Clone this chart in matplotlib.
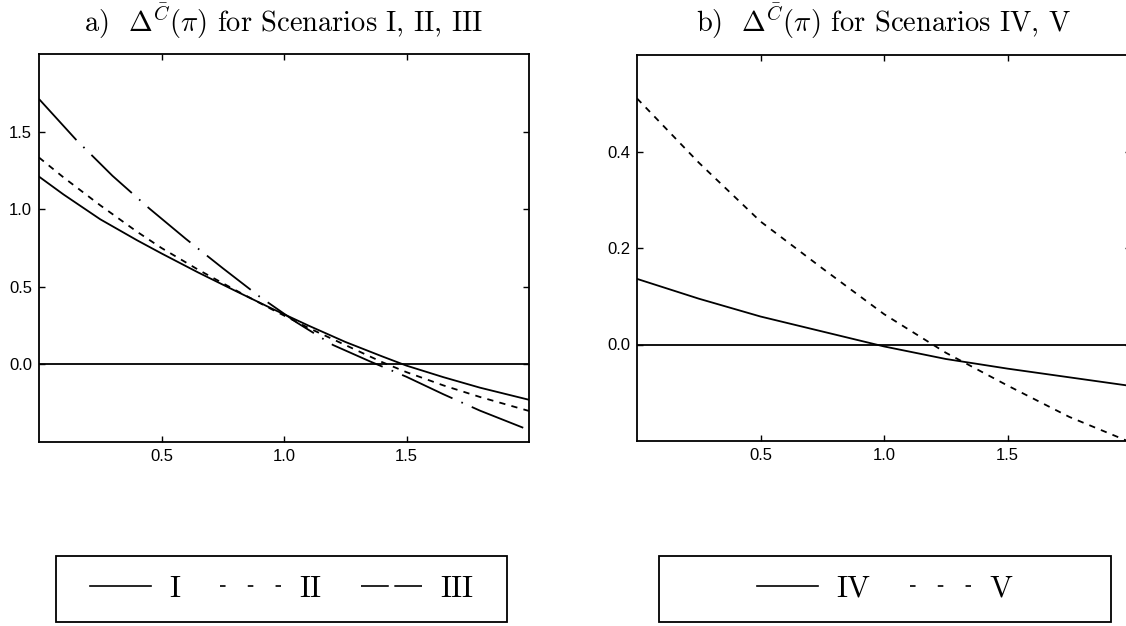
import matplotlib
matplotlib.use('Agg')
import matplotlib.pyplot as plt
from matplotlib.lines import Line2D
from matplotlib.patches import Rectangle

plt.rcParams['mathtext.fontset'] = 'cm'
plt.rcParams['lines.scale_dashes'] = False
plt.rcParams['font.family'] = ['Liberation Sans', 'DejaVu Sans']

# ---------------- data: panel a ----------------
x_I = [0.0, 0.1, 0.25, 0.4, 0.5, 0.65, 0.8, 0.95, 1.1, 1.25, 1.4, 1.5, 1.65, 1.8, 2.0]
y_I = [1.21, 1.095, 0.935, 0.800, 0.715, 0.592, 0.475, 0.360, 0.250, 0.145, 0.052, -0.008, -0.082, -0.150, -0.228]

x_II = [0.0, 0.1, 0.25, 0.4, 0.5, 0.65, 0.8, 0.95, 1.1, 1.25, 1.4, 1.5, 1.65, 1.8, 2.0]
y_II = [1.333, 1.205, 1.025, 0.855, 0.750, 0.610, 0.480, 0.355, 0.235, 0.125, 0.015, -0.050, -0.135, -0.210, -0.300]

x_III = [0.0, 0.15, 0.3, 0.45, 0.6, 0.75, 0.9, 1.05, 1.2, 1.35, 1.5, 1.65, 1.8, 2.0]
y_III = [1.71, 1.450, 1.215, 1.005, 0.808, 0.620, 0.437, 0.272, 0.125, 0.020, -0.080, -0.192, -0.298, -0.423]

# ---------------- data: panel b ----------------
x_b = [0.0, 0.25, 0.5, 0.75, 1.0, 1.25, 1.5, 1.75, 2.0]
y_IV = [0.136, 0.095, 0.058, 0.027, -0.004, -0.030, -0.050, -0.068, -0.086]
y_V = [0.510, 0.377, 0.255, 0.158, 0.063, -0.017, -0.085, -0.150, -0.203]

xticks = [0.5, 1.0, 1.5]
yticks_a = [0.0, 0.5, 1.0, 1.5]
yticks_b = [0.0, 0.2, 0.4]
labels_a = ['I', 'II', 'III']
labels_b = ['IV', 'V']
title_a = r'a)  $\Delta^{\bar{C}}(\pi)$ for Scenarios I, II, III'
title_b = r'b)  $\Delta^{\bar{C}}(\pi)$ for Scenarios IV, V'

W, H = 1126, 626
fig = plt.figure(figsize=(W / 100, H / 100), dpi=100)

def px_axes(l, t, r, b):
    return [l / W, 1 - b / H, (r - l) / W, (b - t) / H]

ax1 = fig.add_axes(px_axes(39, 54, 529, 442))
ax2 = fig.add_axes(px_axes(637, 55, 1131, 441))

LW = 1.3
DASH = (0, (4.5, 4.5))
DASHDOT = (0, (40, 7, 1.2, 7))

ax1.plot(x_I, y_I, color='black', lw=LW, ls='-')
ax1.plot(x_II, y_II, color='black', lw=LW, ls=DASH)
ax1.plot(x_III, y_III, color='black', lw=LW, ls=DASHDOT)
ax1.axhline(0, color='black', lw=1.3)
ax1.set_xlim(0, 2)
ax1.set_ylim(-0.5, 2.0)
ax1.set_yticks(yticks_a)

ax2.plot(x_b, y_IV, color='black', lw=LW, ls='-')
ax2.plot(x_b, y_V, color='black', lw=LW, ls=DASH)
ax2.axhline(0, color='black', lw=1.3)
ax2.set_xlim(0, 2)
ax2.set_ylim(-0.2, 0.6)
ax2.set_yticks(yticks_b)

for ax in (ax1, ax2):
    ax.set_xticks(xticks)
    ax.xaxis.set_major_formatter(matplotlib.ticker.FormatStrFormatter('%.1f'))
    ax.yaxis.set_major_formatter(matplotlib.ticker.FormatStrFormatter('%.1f'))
    ax.tick_params(direction='in', length=4.5, width=1.0, top=True, right=True,
                   labelsize=12, pad=5)
    for s in ax.spines.values():
        s.set_linewidth(1.3)

cm_font = dict(family='cmr10', size=20.5)
fig.text((39 + 529) / 2 / W, 1 - 32 / H, title_a, ha='center', va='baseline', **cm_font)
fig.text((637 + 1131) / 2 / W, 1 - 32 / H, title_b, ha='center', va='baseline', **cm_font)

# legend boxes
def legend_box(x0, x1, handles, labels, ncol):
    y0, y1 = 556, 622
    rect = Rectangle((x0 / W, 1 - y1 / H), (x1 - x0) / W, (y1 - y0) / H,
                     transform=fig.transFigure, fill=False, edgecolor='black', lw=1.3)
    fig.patches.append(rect)
    fig.legend(handles, labels, loc='center', ncol=ncol, frameon=False,
               bbox_to_anchor=((x0 + x1) / 2 / W, 1 - (y0 + y1) / 2 / H),
               prop=dict(family='cmr10', size=22), handlelength=2.0,
               handletextpad=0.6, columnspacing=1.3)

h_solid = Line2D([], [], color='black', lw=1.2, ls='-')
h_dash = Line2D([], [], color='black', lw=1.2, ls=(0, (4, 16)))
h_long = Line2D([], [], color='black', lw=1.2, ls=(0, (20, 4)))
legend_box(56, 507, [h_solid, h_dash, h_long], labels_a, 3)
legend_box(659, 1111, [h_solid, h_dash], labels_b, 2)

fig.savefig('out.png', dpi=100)
